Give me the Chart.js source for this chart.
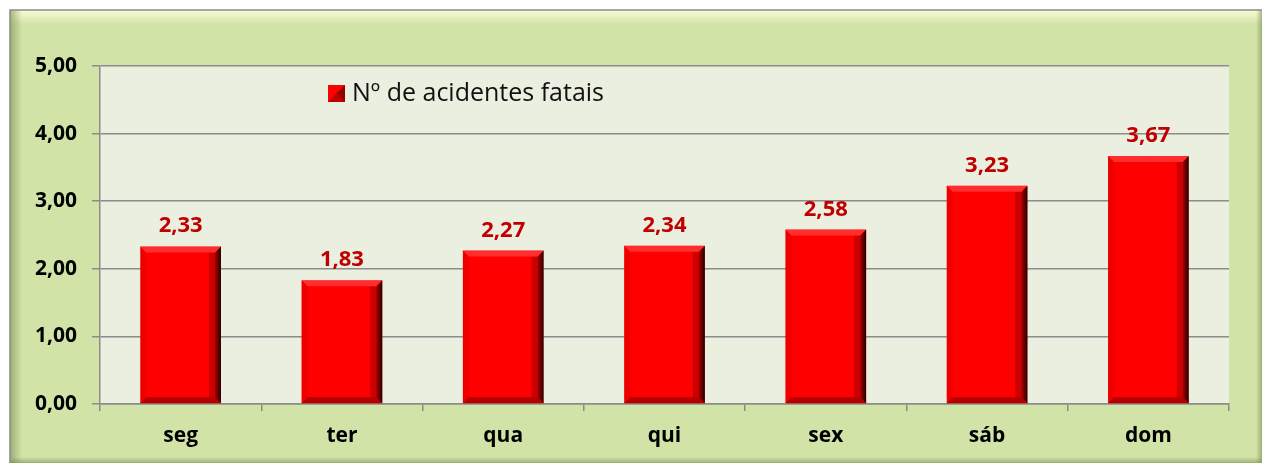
<!DOCTYPE html>
<html><head><meta charset="utf-8">
<script src="https://cdn.jsdelivr.net/npm/chart.js@4/dist/chart.umd.min.js"></script>
<style>html,body{margin:0;padding:0;background:#fff;}#wrap{position:absolute;left:0;top:0;width:1268px;height:466px;}</style>
</head><body><div id="wrap"><canvas id="c" width="1268" height="466"></canvas></div>
<script>
const categories = ['seg','ter','qua','qui','sex','sáb','dom'];
const values = [2.33, 1.83, 2.27, 2.34, 2.58, 3.23, 3.67];
const seriesLabel = 'Nº de acidentes fatais';
const yTicks = [0,1,2,3,4,5];

const fmt = v => v.toFixed(2).replace('.', ',');
const FONT = '"Open Sans"';

const framePlugin = {
  id: 'frame',
  beforeDraw(chart) {
    const ctx = chart.ctx;
    ctx.save();
    ctx.fillStyle = '#ffffff';
    ctx.fillRect(0,0,chart.width,chart.height);
    const L=10,T=10,R=1262,B=463;
    ctx.fillStyle = '#d2e3a8';
    ctx.fillRect(L,T,R-L,B-T);
    let g = ctx.createLinearGradient(0,T,0,T+14);
    g.addColorStop(0,'rgba(255,255,220,0.9)'); g.addColorStop(1,'rgba(255,255,220,0)');
    ctx.fillStyle=g; ctx.fillRect(L,T,R-L,14);
    g = ctx.createLinearGradient(L,0,L+12,0);
    g.addColorStop(0,'rgba(120,140,80,0.6)'); g.addColorStop(1,'rgba(120,140,80,0)');
    ctx.fillStyle=g; ctx.fillRect(L,T,12,B-T);
    g = ctx.createLinearGradient(0,B-6,0,B);
    g.addColorStop(0,'rgba(120,140,80,0)'); g.addColorStop(1,'rgba(120,140,80,0.6)');
    ctx.fillStyle=g; ctx.fillRect(L,B-6,R-L,6);
    g = ctx.createLinearGradient(R-6,0,R,0);
    g.addColorStop(0,'rgba(120,140,80,0)'); g.addColorStop(1,'rgba(120,140,80,0.6)');
    ctx.fillStyle=g; ctx.fillRect(R-6,T,6,B-T);
    ctx.strokeStyle='#8a8a8a'; ctx.lineWidth=1.5;
    ctx.beginPath(); ctx.moveTo(L,B); ctx.lineTo(L,T); ctx.lineTo(R,T); ctx.stroke();
    const a = chart.chartArea;
    ctx.fillStyle = '#ebefdf';
    ctx.fillRect(a.left, a.top, a.right-a.left, a.bottom-a.top);
    ctx.restore();
  }
};

const bevelPlugin = {
  id: 'bevel',
  afterDatasetsDraw(chart) {
    const ctx = chart.ctx;
    const meta = chart.getDatasetMeta(0);
    ctx.save();
    meta.data.forEach((bar, i) => {
      const l = bar.x - bar.width/2, r = bar.x + bar.width/2, t = bar.y, b = bar.base;
      const bw = 6;
      let g = ctx.createLinearGradient(r-10,0,r,0);
      g.addColorStop(0,'rgba(0,0,0,0)'); g.addColorStop(1,'rgba(0,0,0,0.85)');
      ctx.fillStyle=g;
      ctx.beginPath(); ctx.moveTo(r-bw,t+bw); ctx.lineTo(r,t); ctx.lineTo(r,b); ctx.lineTo(r-bw,b-bw); ctx.closePath(); ctx.fill();
      ctx.fillStyle='rgba(0,0,0,0.2)';
      ctx.fillRect(r-12, t+bw, 6, b-t-2*bw);
      ctx.fillStyle='rgba(255,90,90,0.5)';
      ctx.beginPath(); ctx.moveTo(l,t); ctx.lineTo(r,t); ctx.lineTo(r-bw,t+bw); ctx.lineTo(l+bw,t+bw); ctx.closePath(); ctx.fill();
      ctx.fillStyle='rgba(120,0,0,0.55)';
      ctx.beginPath(); ctx.moveTo(l,b); ctx.lineTo(r,b); ctx.lineTo(r-bw,b-bw); ctx.lineTo(l+bw,b-bw); ctx.closePath(); ctx.fill();
      ctx.fillStyle='rgba(200,0,0,0.3)';
      ctx.beginPath(); ctx.moveTo(l,t); ctx.lineTo(l+bw,t+bw); ctx.lineTo(l+bw,b-bw); ctx.lineTo(l,b); ctx.closePath(); ctx.fill();
      ctx.fillStyle='#c00000';
      ctx.font='bold 22px ' + FONT;
      ctx.textAlign='center'; ctx.textBaseline='alphabetic';
      ctx.fillText(fmt(values[i]), bar.x, t-14);
    });
    const lx = 328, ly = 85, s = 17;
    ctx.fillStyle='#ff0000'; ctx.fillRect(lx,ly,s,s);
    ctx.fillStyle='rgba(100,0,0,0.7)';
    ctx.beginPath(); ctx.moveTo(lx+s,ly); ctx.lineTo(lx+s,ly+s); ctx.lineTo(lx+s/2,ly+s/2); ctx.closePath(); ctx.fill();
    ctx.fillStyle='rgba(150,0,0,0.6)';
    ctx.beginPath(); ctx.moveTo(lx,ly+s); ctx.lineTo(lx+s,ly+s); ctx.lineTo(lx+s/2,ly+s/2); ctx.closePath(); ctx.fill();
    ctx.fillStyle='#111';
    ctx.font='25px ' + FONT;
    ctx.textAlign='left'; ctx.textBaseline='middle';
    ctx.fillText(seriesLabel, 352, ly + s/2);
    ctx.restore();
  }
};

new Chart(document.getElementById('c'), {
  type: 'bar',
  data: { labels: categories, datasets: [{ label: seriesLabel, data: values, backgroundColor: '#ff0000', borderWidth: 0, categoryPercentage: 0.5, barPercentage: 1 }] },
  options: {
    responsive: false, animation: false, devicePixelRatio: 1,
    layout: { padding: { left: 0, top: 66, right: 39, bottom: 0 } },
    plugins: { legend: { display: false }, tooltip: { enabled: false } },
    scales: {
      x: {
        grid: { drawOnChartArea: false, drawTicks: true, offset: true, tickLength: 7, color: '#8c8c8c', lineWidth: 1.5 },
        border: { color: '#8c8c8c', width: 1.5 },
        ticks: { color: '#000', font: { family: FONT, weight: 'bold', size: 21 }, padding: 12 },
        afterFit: s => { s.height = 62; }
      },
      y: {
        min: 0, max: 5,
        afterBuildTicks: s => { s.ticks = yTicks.map(v => ({ value: v })); },
        grid: { color: '#8c8c8c', lineWidth: 1.5, tickLength: 8 },
        border: { color: '#8c8c8c', width: 1.5 },
        ticks: { color: '#000', font: { family: FONT, weight: 'bold', size: 21 }, padding: 15, callback: v => fmt(v) },
        afterFit: s => { s.width = 100; }
      }
    }
  },
  plugins: [framePlugin, bevelPlugin]
});
</script></body></html>
